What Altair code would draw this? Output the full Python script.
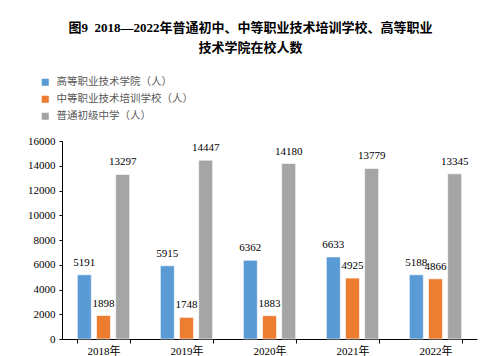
import altair as alt
import pandas as pd

years = ["2018年", "2019年", "2020年", "2021年", "2022年"]
series = ["高等职业技术学院（人）", "中等职业技术培训学校（人）", "普通初级中学（人）"]
higher_voc = [5191, 5915, 6362, 6633, 5188]
secondary_voc = [1898, 1748, 1883, 4925, 4866]
junior_mid = [13297, 14447, 14180, 13779, 13345]
colors = ["#5B9BD5", "#ED7D31", "#A5A5A5"]
y_ticks = [0, 2000, 4000, 6000, 8000, 10000, 12000, 14000, 16000]

rows = []
for vals, s in zip([higher_voc, secondary_voc, junior_mid], series):
    for y, v in zip(years, vals):
        rows.append({"year": y, "series": s, "value": v})
df = pd.DataFrame(rows)

serif = "Liberation Serif, Noto Sans CJK SC"

x = alt.X("year:N", sort=years, title=None,
          scale=alt.Scale(paddingInner=0.37, paddingOuter=0.185),
          axis=alt.Axis(labelAngle=0, labelFont=serif, labelFontSize=11, labelColor="#000",
                        domainColor="#000", tickColor="#000", tickBand="extent",
                        tickSize=4, labelPadding=2))
xo = alt.XOffset("series:N", sort=series, scale=alt.Scale(paddingInner=0.27))
y = alt.Y("value:Q", title=None,
          scale=alt.Scale(domain=[0, 16000], nice=False),
          axis=alt.Axis(values=y_ticks, format="d", grid=False,
                        labelOverlap=False, tickCount=9,
                        labelFont=serif, labelFontSize=11, labelColor="#000",
                        domainColor="#000", tickColor="#000", tickSize=3, labelPadding=4))

bars = alt.Chart(df).mark_bar(stroke="white", strokeWidth=0.6).encode(
    x=x, xOffset=xo, y=y,
    color=alt.Color("series:N", sort=series,
                    scale=alt.Scale(domain=series, range=colors),
                    legend=alt.Legend(title=None, orient="none", legendX=-22, legendY=-64,
                                      symbolType="square", symbolSize=50, symbolStrokeWidth=0,
                                      labelFont="Noto Sans CJK SC", labelFontSize=10.5,
                                      labelColor="#595959", rowPadding=6, labelOffset=6)),
)

labels = alt.Chart(df).mark_text(baseline="middle", dy=-12, font="Liberation Serif",
                                 fontSize=11, color="#000").encode(
    x=x, xOffset=xo, y=y,
    text=alt.Text("value:Q", format="d"),
)

chart = alt.layer(bars, labels).properties(
    width=415, height=198,
    autosize=alt.AutoSizeParams(type="none"),
    padding={"left": 62, "top": 141, "right": 23, "bottom": 17},
    title=alt.TitleParams(
        text=["图9\u00a0\u00a02018—2022年普通初中、中等职业技术培训学校、高等职业", "技术学院在校人数"],
        font=serif, fontSize=13, fontWeight="bold", color="#000",
        anchor="middle", offset=22, lineHeight=20, dx=-19),
).configure_view(stroke=None)

chart.save("out.html", embed_options={"renderer": "svg", "actions": False})
